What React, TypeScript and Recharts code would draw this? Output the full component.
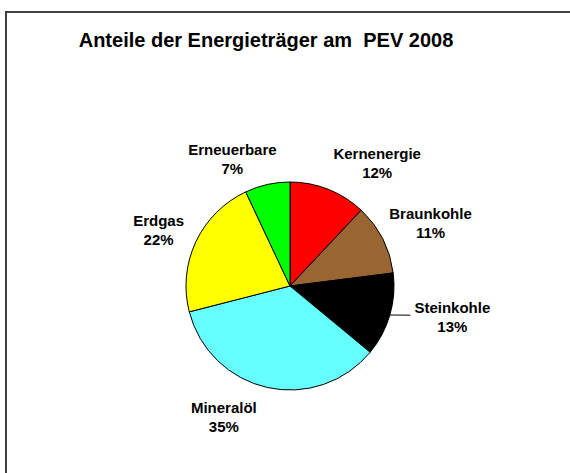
import React from 'react';
import { PieChart, Pie, Cell } from 'recharts';

const categories = ['Kernenergie', 'Braunkohle', 'Steinkohle', 'Mineralöl', 'Erdgas', 'Erneuerbare'];
const shares = [12, 11, 13, 35, 22, 7];
const colors = ['#FF0000', '#996633', '#000000', '#66FFFF', '#FFFF00', '#00FF00'];
const titleText = 'Anteile der Energieträger am  PEV 2008';

// label layout tweaks (clockwise degrees shift, extra gap, leader line)
const labelShift = [10.4, 0.5, -4.2, 12.4, -2, -9];
const labelGap = [22, 18, 27, 21, 18, 14];
const labelLeader = [false, false, true, false, false, false];

const data = categories.map((name, i) => ({ name, value: shares[i] }));

const FONT = '"Liberation Sans", Arial, Helvetica, sans-serif';

const renderLabel = (props: any) => {
  const { cx, cy, midAngle, outerRadius, index, name, value } = props;
  const theta = ((90 - midAngle + labelShift[index]) * Math.PI) / 180;
  const s = Math.sin(theta);
  const c = Math.cos(theta);
  const pct = `${value}%`;
  const w = Math.max(name.length, pct.length) * 7.0;
  const h = 38;
  const a = outerRadius + labelGap[index];
  const lx = cx + a * s + (s * w) / 2;
  const ly = cy - a * c - (c * h) / 2;
  const midT = ((90 - midAngle) * Math.PI) / 180;
  return (
    <g key={`lbl-${index}`}>
      {labelLeader[index] && (
        <line
          x1={cx + outerRadius * Math.sin(midT)}
          y1={cy - outerRadius * Math.cos(midT)}
          x2={lx - w / 2 - 7}
          y2={ly - 2}
          stroke="#000"
          strokeWidth={1}
        />
      )}
      <text x={lx} y={ly - 4} textAnchor="middle" fontFamily={FONT} fontWeight="bold" fontSize={15} fill="#000">
        {name}
      </text>
      <text x={lx} y={ly + 15} textAnchor="middle" fontFamily={FONT} fontWeight="bold" fontSize={15} fill="#000">
        {pct}
      </text>
    </g>
  );
};

export default function App() {
  return (
    <div style={{ position: 'absolute', left: 0, top: 0, width: 570, height: 473, overflow: 'hidden', background: '#fff' }}>
      <div
        style={{
          position: 'absolute',
          left: 5,
          top: 11,
          width: 620,
          height: 520,
          border: '2px solid #404040',
          boxSizing: 'border-box',
        }}
      />
      <div style={{ position: 'absolute', left: 0, top: 0 }}>
        <PieChart width={570} height={473} margin={{ top: 0, right: 0, bottom: 0, left: 0 }}>
          <Pie
            data={data}
            dataKey="value"
            nameKey="name"
            cx={290}
            cy={286}
            outerRadius={104}
            startAngle={90}
            endAngle={-270}
            isAnimationActive={false}
            label={renderLabel}
            labelLine={false}
            stroke="#000"
            strokeWidth={1}
          >
            {data.map((d, i) => (
              <Cell key={d.name} fill={colors[i]} stroke="#000" strokeWidth={1} />
            ))}
          </Pie>
        </PieChart>
      </div>
      <svg width={570} height={473} style={{ position: 'absolute', left: 0, top: 0, pointerEvents: 'none' }}>
        <text
          x={266}
          y={47}
          textAnchor="middle"
          fontFamily={FONT}
          fontWeight="bold"
          fontSize={20}
          fill="#000"
          style={{ whiteSpace: 'pre' }}
        >
          {titleText}
        </text>
      </svg>
    </div>
  );
}
